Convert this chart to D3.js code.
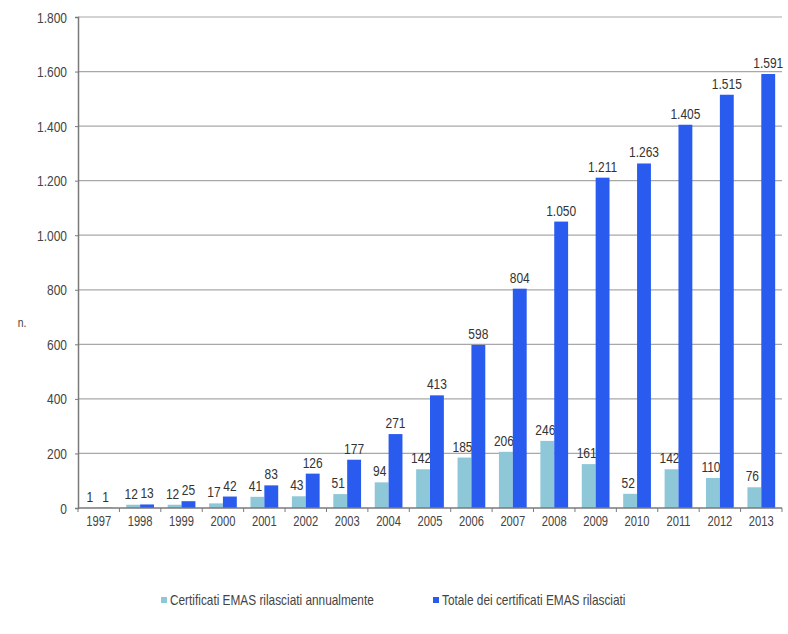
<!DOCTYPE html>
<html>
<head>
<meta charset="utf-8">
<script src="https://cdn.jsdelivr.net/npm/d3@7"></script>
<style>
  html, body { margin: 0; padding: 0; background: #fff; }
  svg text { font-family: "Liberation Sans", Arial, sans-serif; }
</style>
</head>
<body>
<svg id="chart" width="788" height="634"></svg>
<script>
const years = ["1997","1998","1999","2000","2001","2002","2003","2004","2005","2006","2007","2008","2009","2010","2011","2012","2013"];
const annual = [1, 12, 12, 17, 41, 43, 51, 94, 142, 185, 206, 246, 161, 52, 142, 110, 76];
const total = [1, 13, 25, 42, 83, 126, 177, 271, 413, 598, 804, 1050, 1211, 1263, 1405, 1515, 1591];
const yTicks = [0, 200, 400, 600, 800, 1000, 1200, 1400, 1600, 1800];
const seriesNames = ["Certificati EMAS rilasciati annualmente", "Totale dei certificati EMAS rilasciati"];
const colors = ["#8ec8d8", "#2a5bef"];
const yLabel = "n.";

const NARROW = 0.8; // emulate a condensed (Arial Narrow-like) face
const svg = d3.select("#chart");
const margin = { left: 78, right: 6, top: 17, bottom: 126 };
const W = 788, H = 634;
const x0 = d3.scaleBand().domain(years).range([margin.left, W - margin.right]).paddingInner(0.33).paddingOuter(0.165);
const xCat = d3.scaleBand().domain(years).range([margin.left, W - margin.right]);
const x1 = d3.scaleBand().domain([0, 1]).range([0, x0.bandwidth()]);
const y = d3.scaleLinear().domain([0, 1800]).range([H - margin.bottom, margin.top]);
const fmt = d3.formatLocale({ decimal: ",", thousands: ".", grouping: [3], currency: ["€", ""] }).format(",d");

function narrowText(sel, fx, fy) {
  return sel.attr("x", 0).attr("y", 0)
    .attr("transform", (d, i) => `translate(${fx(d, i)},${fy(d, i)}) scale(${NARROW},1)`);
}

// gridlines
svg.append("g").selectAll("line").data(yTicks.slice(1)).join("line")
  .attr("x1", margin.left).attr("x2", W - margin.right)
  .attr("y1", d => y(d)).attr("y2", d => y(d))
  .attr("stroke", "#a8a8a8").attr("stroke-width", 1.2);

// y axis
const yAxis = svg.append("g").attr("transform", `translate(${margin.left},0)`)
  .call(d3.axisLeft(y).tickValues(yTicks).tickFormat(fmt).tickSize(3).tickPadding(5));
yAxis.select(".domain").attr("stroke", "#7a7a7a").attr("stroke-width", 1.5);
yAxis.selectAll(".tick line").attr("stroke", "#7a7a7a");
yAxis.selectAll(".tick text")
  .attr("x", null).attr("dy", null)
  .attr("transform", `translate(-11,5) scale(${NARROW},1)`)
  .attr("font-size", 15).attr("fill", "#444");

// bars
const series = [annual, total];
series.forEach((vals, si) => {
  svg.append("g").selectAll("rect").data(vals).join("rect")
    .attr("x", (d, i) => x0(years[i]) + x1(si))
    .attr("width", x1.bandwidth())
    .attr("y", d => y(d))
    .attr("height", d => y(0) - y(d))
    .attr("fill", colors[si]);
  narrowText(svg.append("g").selectAll("text").data(vals).join("text"),
      (d, i) => x0(years[i]) + x1(si) + x1.bandwidth() / 2 - (si === 0 ? 2 : 0),
      d => y(d) - 6)
    .attr("text-anchor", "middle")
    .attr("font-size", 15)
    .attr("fill", "#333")
    .text(d => fmt(d));
});

// x axis
const xAxisG = svg.append("g").attr("transform", `translate(0,${y(0)})`);
xAxisG.append("line").attr("x1", margin.left).attr("x2", W - margin.right)
  .attr("stroke", "#7a7a7a").attr("stroke-width", 1.5);
xAxisG.selectAll("line.tk").data(years.concat(["end"])).join("line").attr("class", "tk")
  .attr("x1", (d, i) => margin.left + i * xCat.step()).attr("x2", (d, i) => margin.left + i * xCat.step())
  .attr("y1", 0).attr("y2", 4).attr("stroke", "#7a7a7a");
narrowText(xAxisG.selectAll("text").data(years).join("text"),
    d => xCat(d) + xCat.bandwidth() / 2, () => 18)
  .attr("text-anchor", "middle")
  .attr("font-size", 14).attr("fill", "#444")
  .text(d => d);

// y label
narrowText(svg.append("text").datum(yLabel), () => 22, () => 327)
  .attr("text-anchor", "middle")
  .attr("font-size", 13).attr("fill", "#444").text(yLabel);

// legend
const legendX = [161, 433];
seriesNames.forEach((name, i) => {
  const g = svg.append("g").attr("transform", `translate(${legendX[i]},602)`);
  g.append("rect").attr("x", 0).attr("y", -5).attr("width", 6).attr("height", 6).attr("fill", colors[i]);
  narrowText(g.append("text").datum(name), () => 9, () => 3)
    .attr("font-size", 14.8).attr("fill", "#444").text(name);
});
</script>
</body>
</html>
